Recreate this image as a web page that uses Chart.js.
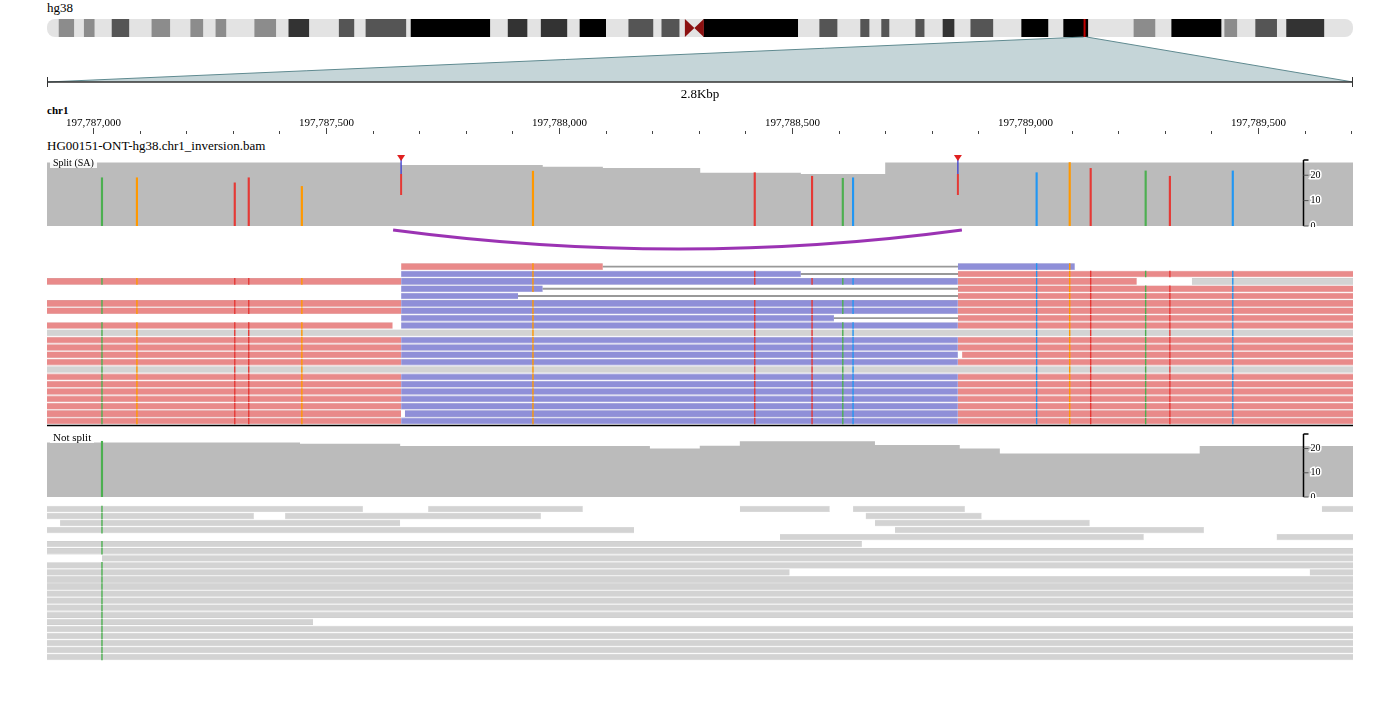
<!DOCTYPE html>
<html><head><meta charset="utf-8">
<script src="https://cdn.jsdelivr.net/npm/chart.js@4.4.1/dist/chart.umd.min.js"></script>
<style>
body{margin:0;background:#fff;width:1400px;height:728px;overflow:hidden;position:relative;font-family:"Liberation Serif",serif;}
.box{position:absolute;left:0;width:1400px;}
.txt{position:absolute;font-family:"Liberation Serif",serif;color:#000;white-space:nowrap;}
</style></head><body>
<div class="txt" style="left:47px;top:0px;font-size:13px;">hg38</div>
<div class="box" style="top:0;height:104px;"><canvas id="ideo"></canvas></div>
<div class="txt" style="left:47px;top:104px;font-size:11px;font-weight:bold;">chr1</div>
<div class="box" style="top:110px;height:26px;"><canvas id="ruler"></canvas></div>
<div class="txt" style="left:47px;top:138px;font-size:13px;">HG00151-ONT-hg38.chr1_inversion.bam</div>
<div class="box" style="top:154px;height:73px;"><canvas id="covSplit"></canvas></div>
<div class="box" style="top:226px;height:204px;"><canvas id="readsSplit"></canvas></div>
<div class="box" style="top:428px;height:70px;"><canvas id="covNot"></canvas></div>
<div class="box" style="top:500px;height:166px;"><canvas id="readsNot"></canvas></div>
<div class="txt" style="left:50px;top:157px;font-size:10px;background:rgba(255,255,255,0.9);padding:0 3px;">Split (SA)</div>
<div class="txt" style="left:50px;top:431px;font-size:11px;background:rgba(255,255,255,0.9);padding:0 3px;">Not split</div>
<script>
// ---------------- DATA ----------------
const chromLengthMb = 248.956;
const locusMb = 197.788;
const bandStart = [2.3,7.1,12.4,20.0,27.4,32.2,39.6,46.1,55.7,60.8,69.4,87.9,94.2,101.6,110.9,117.2,125.2,147.3,155.1,159.1,165.6,170.8,176.1,185.8,193.8,207.2,214.4,224.5,230.4,236.3];
const bandEnd   = [5.1,9.0,15.6,23.4,29.7,34.1,43.6,49.9,58.5,68.4,84.4,91.5,99.1,106.5,115.5,120.5,143.1,150.6,156.7,160.5,167.2,172.9,180.3,190.8,198.4,211.2,223.8,226.8,234.4,243.4];
const bandStain = ['g50','g50','g75','g50','g50','g50','g50','g90','g75','g75','g100','g90','g90','g100','g75','g75','g100','g75','g75','g75','g75','g90','g75','g100','g100','g50','g100','g50','g75','g90'];
const centromereMb = [121.6,125.2];

const viewStart = 197786901, viewEnd = 197789704;
const breakpoints = [197787661, 197788856];
const coverageTicks = [0,10,20];

const covSplitPos = [197786901,197787661,197787965,197788094,197788303,197788519,197788700,197788856,197789704];
const covSplitVal = [21,25,24,23.3,22.8,21,20.5,25,25];
const covNotPos = [197786901,197787444,197787659,197788195,197788302,197788388,197788678,197788860,197788946,197789375,197789547,197789704];
const covNotVal = [23,22.5,22,21,20,21.2,23,21.5,20,18,21,21];

const mmPos   = [197787019,197787094,197787304,197787334,197787448,197787944,197788420,197788543,197788609,197788631,197789025,197789096,197789141,197789259,197789311,197789446];
const mmBase  = ['A','G','T','T','G','G','T','T','A','C','C','G','T','A','T','C'];
const mmCount = [19,19,17,19,15.6,21.6,21,19.6,18.8,19,21,25,22.7,21.7,19.6,21.7];
const mmNotPos = [197787019];
const mmNotBase = ['A'];
const mmNotCount = [23];

// split reads: [row, start, end, strand]  ('+' forward, '-' reverse, 'n' other)
const splitSegs = [
 [0,197787661,197788094,'+'],[0,197788856,197789107,'-'],
 [1,197787661,197788519,'-'],[1,197788856,197789704,'+'],
 [2,197786901,197787661,'+'],[2,197787661,197788856,'-'],[2,197788856,197789240,'+'],[2,197789358,197789704,'n'],
 [3,197787661,197787965,'-'],[3,197788856,197789704,'+'],
 [4,197787661,197787912,'-'],[4,197788856,197789704,'+'],
 [5,197786901,197787661,'+'],[5,197787661,197788856,'-'],[5,197788856,197789704,'+'],
 [6,197786901,197787661,'+'],[6,197787661,197788856,'-'],[6,197788856,197789704,'+'],
 [7,197787661,197788590,'-'],[7,197788856,197789704,'+'],
 [8,197786901,197787643,'+'],[8,197787661,197788856,'-'],[8,197788856,197789704,'+'],
 [9,197786901,197789704,'n'],
 [10,197786901,197787661,'+'],[10,197787661,197788856,'-'],[10,197788856,197789704,'+'],
 [11,197786901,197787661,'+'],[11,197787661,197788856,'-'],[11,197788856,197789704,'+'],
 [12,197786901,197787661,'+'],[12,197787661,197788856,'-'],[12,197788865,197789704,'+'],
 [13,197786901,197787661,'+'],[13,197787661,197788856,'-'],[13,197788856,197789704,'+'],
 [14,197786901,197789704,'n'],
 [15,197786901,197787661,'+'],[15,197787661,197788856,'-'],[15,197788856,197789704,'+'],
 [16,197786901,197787661,'+'],[16,197787661,197788856,'-'],[16,197788856,197789704,'+'],
 [17,197786901,197787661,'+'],[17,197787661,197788856,'-'],[17,197788856,197789704,'+'],
 [18,197786901,197787661,'+'],[18,197787661,197788856,'-'],[18,197788856,197789704,'+'],
 [19,197786901,197787661,'+'],[19,197787661,197788856,'-'],[19,197788856,197789704,'+'],
 [20,197786901,197787661,'+'],[20,197787669,197788856,'-'],[20,197788856,197789704,'+'],
 [21,197786901,197787661,'+'],[21,197787661,197788856,'-'],[21,197788856,197789704,'+']
];
const splitLinks = [[0,197788094,197788856],[1,197788519,197788856],[3,197787965,197788856],[4,197787912,197788856],[7,197788590,197788856]];

// not split reads: [row, start, end]
const notSegs = [
 [0,197786901,197787579],[0,197787719,197788051],[0,197788388,197788581],[0,197788631,197788871],[0,197789637,197789704],
 [1,197786901,197787345],[1,197787412,197787961],[1,197788658,197788907],
 [2,197786929,197787659],[2,197788678,197789139],
 [3,197786901,197788161],[3,197788721,197789384],
 [4,197788474,197789255],[4,197789540,197789704],
 [5,197786901,197788650],
 [6,197786901,197789704],[7,197787019,197789704],[8,197786901,197789704],
 [9,197786901,197788495],[9,197789611,197789704],
 [10,197786901,197789704],[11,197786901,197789704],[12,197786901,197789704],[13,197786901,197789704],[14,197786901,197789704],[15,197786901,197789704],
 [16,197786901,197787472],
 [17,197786901,197789704],[18,197786901,197789704],[19,197786901,197789704],[20,197786901,197789704],[21,197786901,197789704]
];

// ---------------- STYLE ----------------
const FONT = '"Liberation Serif", serif';
const baseColor = {A:'#4caf50',C:'#2196f3',G:'#ff9800',T:'#e53935'};
const stainColor = {g50:'#8c8c8c',g75:'#555555',g90:'#333333',g100:'#000000'};
const strandColor = {'+':'rgb(233,138,138)','-':'rgb(143,143,216)','n':'rgb(211,211,211)'};
const strandBorder = {'+':'rgb(214,120,120)','-':'rgb(125,125,200)','n':'rgb(190,190,190)'};
const COV = 'rgb(187,187,187)';
Chart.defaults.animation = false;
Chart.defaults.font.family = FONT;
const rowLabels = Array.from({length:22},(_,i)=>String(i));

// ---------------- IDEOGRAM ----------------
new Chart(document.getElementById('ideo'), {
  type:'bar',
  data:{labels:['chr'],datasets:[{
    data:bandStart.map((s,i)=>({x:[s,bandEnd[i]],y:'chr'})),
    backgroundColor:bandStain.map(s=>stainColor[s]),
    barPercentage:1,categoryPercentage:1,borderWidth:0
  }]},
  options:{indexAxis:'y',responsive:true,maintainAspectRatio:false,
    layout:{padding:{left:47,right:47,top:19,bottom:67}},
    plugins:{legend:{display:false},tooltip:{enabled:false}},
    scales:{x:{type:'linear',min:0,max:chromLengthMb,display:false},y:{display:false}}},
  plugins:[{id:'ideoDeco',
    beforeDatasetsDraw(c){const a=c.chartArea,g=c.ctx;g.save();g.fillStyle='#e3e3e3';
      g.beginPath();g.roundRect(a.left,a.top,a.width,a.height,8);g.fill();g.restore();},
    afterDatasetsDraw(c){const a=c.chartArea,g=c.ctx,x=c.scales.x;g.save();
      const c1=x.getPixelForValue(centromereMb[0]),c2=x.getPixelForValue(centromereMb[1]),cm=(c1+c2)/2;
      g.fillStyle='#8b1010';g.beginPath();g.moveTo(c1,a.top);g.lineTo(cm,(a.top+a.bottom)/2);g.lineTo(c1,a.bottom);g.closePath();g.fill();
      g.beginPath();g.moveTo(c2,a.top);g.lineTo(cm,(a.top+a.bottom)/2);g.lineTo(c2,a.bottom);g.closePath();g.fill();
      const lx=x.getPixelForValue(locusMb);
      g.fillStyle='#c5d5d8';g.strokeStyle='#5f8a90';g.lineWidth=1;
      g.beginPath();g.moveTo(a.left,82);g.lineTo(lx-1,a.bottom);g.lineTo(lx+2,a.bottom);g.lineTo(a.right,82);g.closePath();g.fill();
      g.beginPath();g.moveTo(a.left,82);g.lineTo(lx-1,a.bottom);g.moveTo(lx+2,a.bottom);g.lineTo(a.right,82);g.stroke();
      g.strokeStyle='#333';g.lineWidth=1.5;g.beginPath();g.moveTo(a.left,82);g.lineTo(a.right,82);g.stroke();
      g.lineWidth=1;g.beginPath();g.moveTo(a.left+0.5,77);g.lineTo(a.left+0.5,87);g.moveTo(a.right-0.5,77);g.lineTo(a.right-0.5,87);g.stroke();
      g.strokeStyle='#c00000';g.lineWidth=2;g.beginPath();g.moveTo(lx,a.top);g.lineTo(lx,a.bottom);g.stroke();
      g.fillStyle='#000';g.font='13px '+FONT;g.textAlign='center';g.textBaseline='middle';
      g.fillText(((viewEnd-viewStart)/1000).toFixed(1)+'Kbp',(a.left+a.right)/2,95);g.restore();}
  }]
});

// ---------------- RULER ----------------
new Chart(document.getElementById('ruler'), {
  type:'line',data:{datasets:[{data:[]}]},
  options:{responsive:true,maintainAspectRatio:false,
    layout:{padding:{left:47,right:47,top:18,bottom:0}},
    plugins:{legend:{display:false},tooltip:{enabled:false}},
    scales:{x:{type:'linear',min:viewStart,max:viewEnd,display:false},y:{display:false}}},
  plugins:[{id:'rulerDraw',afterDraw(c){const g=c.ctx,x=c.scales.x,a=c.chartArea;g.save();
    g.strokeStyle='#444';g.fillStyle='#000';g.font='11px '+FONT;g.textAlign='center';g.textBaseline='middle';
    for(let v=Math.ceil(viewStart/100)*100;v<=viewEnd;v+=100){const p=Math.round(x.getPixelForValue(v))+0.5;
      const major=v%500===0;g.lineWidth=1;g.beginPath();g.moveTo(p,major?a.top:a.top+3);g.lineTo(p,a.top+6);g.stroke();
      if(major)g.fillText(v.toLocaleString('en-US'),p,a.top-5);}
    g.restore();}}]
});

// ---------------- COVERAGE ----------------
function coverageChart(id, pos, val, mPos, mBase, mCount, showBreaks){
  const area = pos.map((p,i)=>({x:p,y:val[i]}));
  return new Chart(document.getElementById(id), {
    type:'bar',
    data:{datasets:[
      {type:'bar',data:mPos.map((p,i)=>({x:p,y:mCount[i]})),backgroundColor:mBase.map(b=>baseColor[b]),barThickness:1.5,order:0},
      {type:'line',data:area,stepped:'after',fill:'origin',backgroundColor:COV,borderColor:COV,borderWidth:0,pointRadius:0,order:1}
    ]},
    options:{responsive:true,maintainAspectRatio:false,
      layout:{padding:{left:47,right:47,top:6,bottom:1}},
      plugins:{legend:{display:false},tooltip:{enabled:false}},
      scales:{x:{type:'linear',min:viewStart,max:viewEnd,offset:false,display:false},
              y:{min:0,max:26,display:false}}},
    plugins:[{id:'covAxis',afterDraw(c){const g=c.ctx,y=c.scales.y,x=c.scales.x,a=c.chartArea;g.save();
      const ax=1303.5;g.strokeStyle='#000';g.lineWidth=1.5;g.beginPath();g.moveTo(ax,a.top);g.lineTo(ax,y.getPixelForValue(0));g.stroke();
      g.beginPath();g.moveTo(ax,a.top);g.lineTo(ax+5,a.top);g.stroke();
      g.font='10px '+FONT;g.textBaseline='middle';g.textAlign='left';
      coverageTicks.forEach(t=>{const py=y.getPixelForValue(t);g.strokeStyle='#555';g.lineWidth=1;g.beginPath();g.moveTo(ax,py);g.lineTo(ax+5,py);g.stroke();
        g.lineWidth=3;g.strokeStyle='#fff';g.strokeText(String(t),ax+7,py);g.fillStyle='#000';g.fillText(String(t),ax+7,py);});
      if(showBreaks){breakpoints.forEach(b=>{const px=x.getPixelForValue(b);g.strokeStyle='#3030d0';g.lineWidth=1.2;g.beginPath();g.moveTo(px,3);g.lineTo(px,a.top+14);g.stroke();
        g.strokeStyle='#e53935';g.lineWidth=2;g.beginPath();g.moveTo(px,a.top+14);g.lineTo(px,a.top+35);g.stroke();
        g.fillStyle='#e02020';g.beginPath();g.moveTo(px-4,1);g.lineTo(px+4,1);g.lineTo(px,7);g.closePath();g.fill();});}
      g.restore();}}]
  });
}
coverageChart('covSplit',covSplitPos,covSplitVal,mmPos,mmBase,mmCount,true);
coverageChart('covNot',covNotPos,covNotVal,mmNotPos,mmNotBase,mmNotCount,false);

// ---------------- READS ----------------
function readsChart(id, segs, links, mPos, mBase, topPad, deco){
  const marks=[],markColors=[];
  segs.forEach(s=>{mPos.forEach((p,i)=>{if(p>s[1]&&p<s[2]){marks.push({x:p,y:String(s[0])});markColors.push(baseColor[mBase[i]]);}});});
  const strands=['+','-','n'];
  const ds=strands.map(st=>({type:'bar',indexAxis:'y',grouped:false,
      data:segs.filter(s=>(s[3]||'n')===st).map(s=>({x:[s[1],s[2]],y:String(s[0])})),
      backgroundColor:strandColor[st],borderColor:strandBorder[st],borderWidth:{top:0.6,bottom:0.6,left:0,right:0},borderSkipped:false,
      barPercentage:0.9,categoryPercentage:1,order:2}));
  ds.push({type:'bar',indexAxis:'y',grouped:false,data:links.map(l=>({x:[l[1],l[2]],y:String(l[0])})),backgroundColor:'#999',barThickness:1.2,order:3});
  ds.push({type:'scatter',data:marks,pointStyle:'line',rotation:90,radius:3.3,borderColor:markColors,borderWidth:1.4,order:1});
  return new Chart(document.getElementById(id), {
    type:'bar',data:{labels:rowLabels,datasets:ds},
    options:{indexAxis:'y',responsive:true,maintainAspectRatio:false,
      layout:{padding:{left:47,right:47,top:topPad,bottom:0}},
      plugins:{legend:{display:false},tooltip:{enabled:false}},
      scales:{x:{type:'linear',min:viewStart,max:viewEnd,display:false},
              y:{type:'category',labels:rowLabels,display:false,offset:true}}},
    plugins:deco?[deco]:[]
  });
}
const splitDeco={id:'arc',afterDraw(c){const g=c.ctx,x=c.scales.x,a=c.chartArea;g.save();
  const x1=x.getPixelForValue(breakpoints[0]),x2=x.getPixelForValue(breakpoints[1]);
  g.strokeStyle='rgba(150,40,175,0.95)';g.lineWidth=3.2;g.beginPath();g.moveTo(x1-8,4);g.quadraticCurveTo((x1+x2)/2,42,x2+4,4);g.stroke();
  g.strokeStyle='#000';g.lineWidth=1.5;g.beginPath();g.moveTo(a.left,a.bottom+1);g.lineTo(a.right,a.bottom+1);g.stroke();g.restore();}};
readsChart('readsSplit',splitSegs,splitLinks,mmPos,mmBase,37,splitDeco);
readsChart('readsNot',notSegs.map(s=>[s[0],s[1],s[2],'n']),[],mmNotPos,mmNotBase,0,null);
</script></body></html>
